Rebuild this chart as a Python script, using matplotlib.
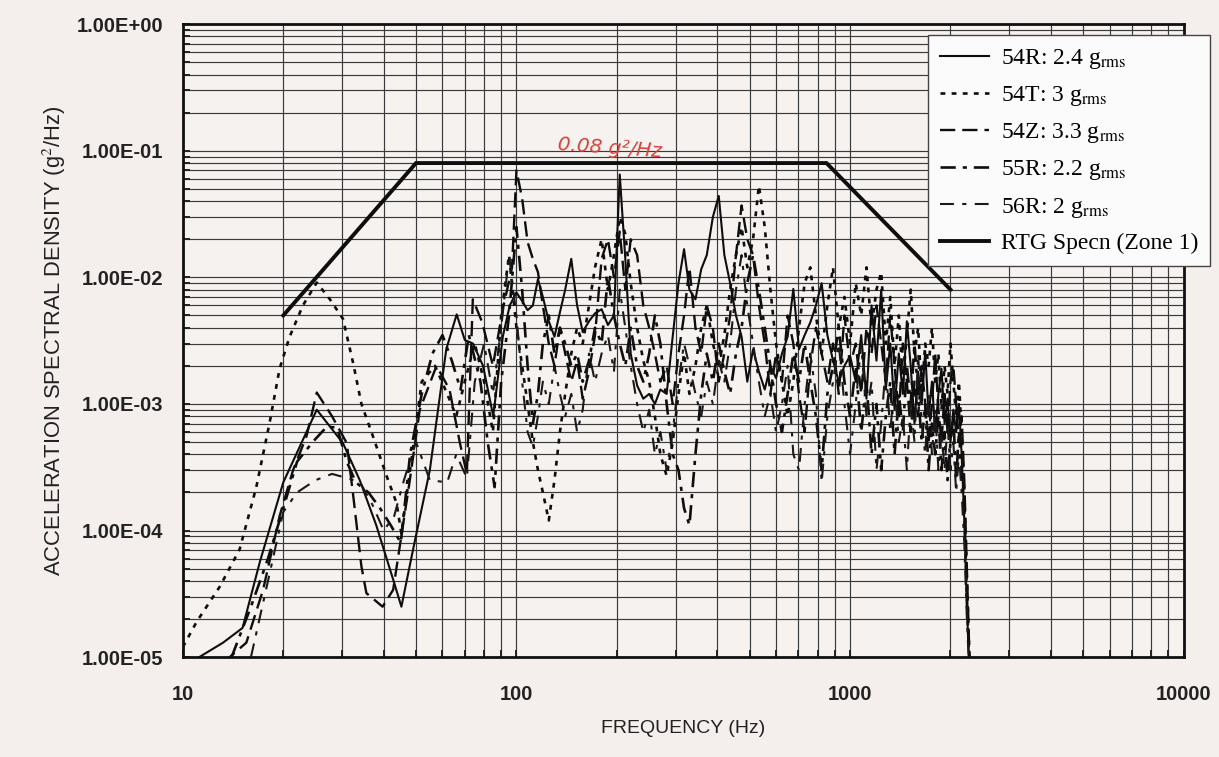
import matplotlib
matplotlib.use("Agg")
import matplotlib.pyplot as plt
from matplotlib.ticker import FixedLocator, FuncFormatter, LogLocator, NullFormatter

plt.rcParams['font.family'] = ['Liberation Sans', 'DejaVu Sans']
plt.rcParams['lines.scale_dashes'] = False
plt.rcParams['mathtext.fontset'] = 'stix'

# shared frequency bins above 100 Hz
freq_hi = [100, 104, 108, 112, 116, 120, 125, 130, 135, 140,
           146, 152, 158, 165, 172, 180, 188, 196, 204, 212,
           220, 230, 240, 250, 260, 270, 282, 294, 306, 318,
           330, 344, 358, 372, 388, 404, 420, 437, 455, 473,
           492, 512, 533, 555, 577, 600, 625, 650, 676, 703,
           731, 760, 790, 822, 855, 889, 925, 962, 1000, 1040,
           1080, 1120, 1160, 1200, 1240, 1280, 1320, 1360, 1400, 1440,
           1480, 1520, 1560, 1600, 1640, 1680, 1720, 1760, 1800, 1840,
           1880, 1920, 1960, 2000, 2040, 2080, 2120, 2160, 2200, 2240, 2280]

# 54R
f_54r_lo = [10.5, 11.2, 13.2, 15.1, 17.0, 20.0, 25.2, 30.2, 33.9, 38.0, 42.7, 45.2,
            49.0, 55.0, 61.6, 66.2, 70.0, 74.1, 79.4, 85.2, 91.0, 95.5]
v_54r_lo = [8e-6, 1.0e-5, 1.3e-5, 1.7e-5, 5.6e-5, 2.4e-4, 9.0e-4, 4.9e-4, 2.5e-4, 1.1e-4, 4.1e-5, 2.5e-5,
            7.1e-5, 3.0e-4, 2.7e-3, 5.1e-3, 3.2e-3, 3.0e-3, 2.0e-3, 8.0e-4, 3.4e-3, 6e-3]
v_54r_hi = [7.6e-3, 6.5e-3, 5.5e-3, 6.0e-3, 9.7e-3, 7e-3, 4.5e-3, 3.4e-3, 5.3e-3, 8e-3,
            1.4e-2, 6e-3, 3.7e-3, 4.5e-3, 5.2e-3, 5.6e-3, 4.2e-3, 5.0e-3, 6.5e-2, 1.4e-2,
            2.5e-3, 1.4e-3, 1.1e-3, 1.2e-3, 1.0e-3, 1.3e-3, 1.2e-3, 3.4e-3, 9e-3, 1.67e-2,
            8e-3, 6.7e-3, 1.16e-2, 1.5e-2, 3e-2, 4.4e-2, 1.5e-2, 9e-3, 5e-3, 3.4e-3,
            1.5e-3, 2.7e-3, 1.8e-3, 1.3e-3, 2.0e-3, 1.6e-3, 2.5e-3, 3.4e-3, 8.1e-3, 2.7e-3,
            3.5e-3, 4.4e-3, 6e-3, 9e-3, 3.5e-3, 2.2e-3, 1.5e-3, 2.0e-3, 2.4e-3, 1.5e-3,
            3.5e-3, 1.1e-3, 6e-3, 2.2e-3, 8e-3, 1.3e-3, 3.0e-3, 9e-4, 2.5e-3, 1.2e-3,
            4.5e-3, 2.0e-3, 7e-4, 1.8e-3, 1.0e-3, 2.6e-3, 8e-4, 1.5e-3, 6e-4, 1.2e-3,
            1.9e-3, 7e-4, 1.1e-3, 5e-4, 9e-4, 6e-4, 1.0e-3, 4e-4, 1.2e-4, 2.5e-5, 8e-6]

# 54T
f_54t_lo = [10, 11.0, 12.9, 14.8, 16.6, 18.2, 19.5, 20.9, 22.9, 25.2, 27.6, 30.2, 32.4, 34.3,
            37.1, 40.8, 43.7, 45.2, 48, 52, 57, 62, 66, 70, 75, 80, 85, 90, 95]
v_54t_lo = [1.2e-5, 1.9e-5, 3.6e-5, 7.1e-5, 2.2e-4, 7.1e-4, 1.9e-3, 3.4e-3, 6.0e-3, 9.1e-3, 6.7e-3, 4.7e-3, 2.1e-3, 1.0e-3,
            5.6e-4, 2.7e-4, 1.65e-4, 9.5e-5, 3e-4, 1.5e-3, 2e-3, 1.2e-3, 8e-4, 1.5e-3, 3e-3, 1.5e-3, 6e-4, 5e-3, 1.5e-2]
v_54t_hi = [4e-3, 2e-3, 1e-3, 5e-4, 3e-4, 2e-4, 1.2e-4, 2.5e-4, 6e-4, 1.2e-3,
            2.5e-3, 4e-3, 3e-3, 6e-3, 1.2e-2, 2e-2, 8e-3, 1.5e-2, 3e-2, 2.2e-2,
            9e-3, 4e-3, 2.2e-3, 1.5e-3, 8e-4, 4e-4, 2.7e-4, 5e-4, 1.2e-3, 2.5e-3,
            1.2e-3, 2e-3, 4e-3, 6e-3, 3e-3, 2e-3, 3.5e-3, 8e-3, 1.5e-2, 2.5e-2,
            1.2e-2, 2e-2, 5.3e-2, 2.5e-2, 8e-3, 3e-3, 1.5e-3, 8e-4, 1.5e-3, 4e-3,
            9e-3, 1.2e-2, 5e-3, 2.5e-3, 6e-3, 1.2e-2, 4e-3, 7e-3, 3e-3, 9e-3,
            5e-3, 1.2e-2, 4e-3, 8e-3, 1.1e-2, 3e-3, 7e-3, 2e-3, 5e-3, 1.5e-3,
            3.5e-3, 8e-3, 2.5e-3, 4e-3, 1.2e-3, 3e-3, 2e-3, 4e-3, 1.5e-3, 2.5e-3,
            9e-4, 2e-3, 1.2e-3, 3e-3, 1.5e-3, 8e-4, 1.5e-3, 6e-4, 2e-4, 4e-5, 1e-5]

# 54Z
f_54z_lo = [13.2, 15.5, 17.4, 19.5, 21.4, 23.5, 25.2, 28.0, 31.0, 32.4, 34.3, 35.5, 39.7,
            42.7, 47.8, 51.3, 57.6, 63, 67.7, 71, 74, 79, 85, 91, 97]
v_54z_lo = [9e-6, 1.3e-5, 3.4e-5, 1.3e-4, 3e-4, 5.6e-4, 1.23e-3, 8e-4, 4.9e-4, 1.9e-4, 5.2e-5, 3.2e-5, 2.5e-5,
            3.4e-5, 2.4e-4, 9e-4, 2e-3, 1.3e-3, 4.9e-4, 2.8e-4, 6.7e-3, 4.4e-3, 2e-3, 5.6e-3, 1.2e-2]
v_54z_hi = [7e-2, 4.2e-2, 1.9e-2, 1.4e-2, 1.1e-2, 6e-3, 3e-3, 2e-3, 4e-3, 2.5e-3,
            1.5e-3, 2.2e-3, 1.1e-3, 1.8e-3, 3.5e-3, 1.4e-2, 2e-2, 1e-2, 2.3e-2, 8e-3,
            2e-2, 1.5e-2, 6e-3, 4e-3, 2.5e-3, 1.5e-3, 2e-3, 1e-3, 2.5e-3, 5e-3,
            1.2e-2, 4e-3, 2.5e-3, 6e-3, 4e-3, 1.5e-3, 2.5e-3, 5e-3, 1.5e-2, 3.7e-2,
            2e-2, 1.5e-2, 6e-3, 3e-3, 1.2e-3, 2.5e-3, 1.5e-3, 5e-3, 3e-3, 1.2e-3,
            6e-4, 2e-3, 4e-3, 2.5e-3, 1.5e-3, 3e-3, 1.2e-3, 5e-3, 2e-3, 3e-3,
            1.2e-3, 4e-3, 2.5e-3, 6e-3, 3e-3, 1.5e-3, 5e-3, 2e-3, 8e-4, 3e-3,
            1.5e-3, 6e-4, 1.5e-3, 8e-4, 2e-3, 1e-3, 5e-4, 1e-3, 2.5e-3, 9e-4,
            5e-4, 1.2e-3, 6e-4, 1.5e-3, 2e-3, 1e-3, 5e-4, 8e-4, 2.5e-4, 5e-5, 1e-5]

# 55R
f_55r_lo = [14, 16, 18, 20, 22, 24.5, 27, 29, 31, 33, 36, 39, 42, 45, 48, 52, 56, 60, 64,
            68, 72, 78, 82, 86, 90, 95]
v_55r_lo = [1e-5, 2.5e-5, 6e-5, 1.5e-4, 3.5e-4, 5e-4, 6.6e-4, 6.5e-4, 3.5e-4, 2.4e-4, 2e-4, 1.5e-4, 1.1e-4, 8e-5,
            4e-4, 1.2e-3, 2.5e-3, 3.5e-3, 2.2e-3, 1.3e-3, 3.5e-3, 1.5e-3, 5e-4, 2.2e-4, 1.5e-3, 5e-3]
v_55r_hi = [2.5e-2, 8e-3, 2e-3, 7e-4, 1.2e-3, 3e-3, 5e-3, 2.5e-3, 4e-3, 3e-3,
            2e-3, 2.5e-3, 1.5e-3, 2.2e-3, 4e-3, 3e-3, 1e-2, 5e-3, 3e-3, 2e-3,
            4e-3, 2e-3, 1.5e-3, 2.5e-3, 5e-3, 3e-3, 1e-3, 4e-4, 3e-4, 1.5e-4,
            1.1e-4, 4e-4, 1.2e-3, 2.5e-3, 1.5e-3, 3e-3, 1.8e-3, 1.2e-3, 2.5e-3, 4e-3,
            9e-3, 1.5e-2, 8e-3, 4e-3, 2e-3, 1e-3, 6e-4, 1.2e-3, 2.5e-3, 1.5e-3,
            3e-3, 1.5e-3, 8e-4, 3e-4, 1.2e-3, 2e-3, 4e-3, 1.5e-3, 8e-4, 2e-3,
            6e-4, 1.5e-3, 4e-4, 1e-3, 3e-4, 8e-4, 1.5e-3, 4e-4, 1.2e-3, 6e-4,
            2e-3, 1e-3, 3e-3, 1.2e-3, 5e-4, 1e-3, 3e-4, 7e-4, 4e-4, 8e-4,
            3e-4, 6e-4, 2.5e-4, 5e-4, 8e-4, 2.5e-4, 6e-4, 3e-4, 1.5e-4, 3e-5, 8e-6]

# 56R
f_56r_lo = [16, 18, 20, 22, 25, 28, 31, 34, 37, 40, 43, 46, 50, 55, 62, 66, 71, 75, 80, 85, 90, 95]
v_56r_lo = [1e-5, 4e-5, 1.4e-4, 2e-4, 2.5e-4, 2.8e-4, 2.6e-4, 2.4e-4, 1.6e-4, 1.0e-4, 1.3e-4, 2.5e-4,
            5e-4, 2.5e-4, 2.4e-4, 4e-4, 2.6e-4, 1.5e-3, 3e-3, 1.2e-3, 4e-3, 1.5e-2]
v_56r_hi = [5e-3, 1.5e-3, 6e-4, 4.6e-4, 8e-4, 1.5e-3, 1e-3, 2e-3, 1.2e-3, 8e-4,
            1.2e-3, 6e-4, 9e-4, 2.5e-3, 1.5e-3, 2.5e-3, 3.5e-3, 1.8e-3, 8e-3, 4e-3,
            2e-3, 1e-3, 6e-4, 9e-4, 4e-4, 6e-4, 3e-4, 6e-4, 1.5e-3, 3e-3,
            2e-3, 1.2e-3, 8e-4, 1.5e-3, 1e-3, 2.2e-3, 1.5e-3, 3e-3, 8e-3, 1.5e-2,
            6e-3, 3e-3, 1.5e-3, 8e-4, 1.2e-3, 6e-4, 1e-3, 2e-3, 4e-4, 3e-4,
            1e-3, 2.5e-3, 1.2e-3, 2.4e-4, 8e-4, 1.5e-3, 3e-3, 1e-3, 4e-4, 1e-3,
            3e-3, 8e-4, 1.5e-3, 3e-4, 7e-4, 2e-3, 6e-4, 1.5e-3, 5e-4, 8e-4,
            3e-4, 1e-3, 5e-4, 2.5e-3, 7e-4, 4e-4, 1.2e-3, 4e-4, 9e-4, 3e-4,
            6e-4, 3e-4, 7e-4, 3e-4, 5e-4, 2e-4, 4e-4, 2e-4, 8e-5, 2e-5, 7e-6]

# RTG spec (Zone 1)
spec_f = [20, 50, 850, 2000]
spec_v = [0.005, 0.08, 0.08, 0.008]

labels = [r'54R: 2.4 g$_{\mathrm{rms}}$', r'54T: 3 g$_{\mathrm{rms}}$', r'54Z: 3.3 g$_{\mathrm{rms}}$',
          r'55R: 2.2 g$_{\mathrm{rms}}$', r'56R: 2 g$_{\mathrm{rms}}$', 'RTG Specn (Zone 1)']

bg = '#f4efed'
fig = plt.figure(figsize=(12.19, 7.57), dpi=100, facecolor=bg)
ax = fig.add_axes([0.150, 0.132, 0.821, 0.836])
ax.set_facecolor('#f6f2f0')

ink = '#0e0e0e'
ax.plot(f_54r_lo + freq_hi, v_54r_lo + v_54r_hi, color=ink, lw=1.5, label=labels[0])
ax.plot(f_54t_lo + freq_hi, v_54t_lo + v_54t_hi, color=ink, lw=1.9, dashes=(3.5, 4.5), label=labels[1])
ax.plot(f_54z_lo + freq_hi, v_54z_lo + v_54z_hi, color=ink, lw=1.7, dashes=(11, 5), label=labels[2])
ax.plot(f_55r_lo + freq_hi, v_55r_lo + v_55r_hi, color=ink, lw=1.9, dashes=(11, 5, 3, 5), label=labels[3])
ax.plot(f_56r_lo + freq_hi, v_56r_lo + v_56r_hi, color='#1a1a1a', lw=1.5, dashes=(10, 6, 3, 6), label=labels[4])
ax.plot(spec_f, spec_v, color=ink, lw=2.8, label=labels[5], solid_joinstyle='miter')

ax.set_xscale('log')
ax.set_yscale('log')
ax.set_xlim(10, 10000)
ax.set_ylim(1e-5, 1)

ax.xaxis.set_major_locator(FixedLocator([10, 100, 1000, 10000]))
ax.xaxis.set_major_formatter(FuncFormatter(lambda v, p: '%d' % round(v)))
ax.xaxis.set_minor_locator(LogLocator(base=10, subs=range(2, 10)))
ax.xaxis.set_minor_formatter(NullFormatter())
ax.yaxis.set_major_locator(FixedLocator([1e-5, 1e-4, 1e-3, 1e-2, 1e-1, 1]))
ax.yaxis.set_major_formatter(FuncFormatter(lambda v, p: '%.2E' % v))
ax.yaxis.set_minor_locator(LogLocator(base=10, subs=range(2, 10)))
ax.yaxis.set_minor_formatter(NullFormatter())

ax.grid(True, which='both', color='#3a3a3a', lw=0.85)
ax.set_axisbelow(True)
ax.tick_params(which='both', direction='in', length=5, width=1.4, color='#222222')
ax.tick_params(axis='y', which='major', pad=14, labelsize=14.5)
ax.tick_params(axis='x', which='major', pad=20, labelsize=14.5)
for t in ax.get_xticklabels() + ax.get_yticklabels():
    t.set_fontweight('bold')
    t.set_color('#222222')
for s in ax.spines.values():
    s.set_linewidth(2.0)
    s.set_color('#111111')

ax.set_xlabel('FREQUENCY (Hz)', fontsize=14, color='#222222')
ax.set_ylabel('ACCELERATION SPECTRAL DENSITY (g$^2$/Hz)', fontsize=15.8, color='#222222')
ax.xaxis.set_label_coords(0.5, -0.1)
ax.yaxis.set_label_coords(-0.115, 0.5)

# handwritten note on the spec level
ax.text(190, 0.083, '0.08 g²/Hz', color='#d2463c', fontsize=14.5, style='italic',
        ha='center', va='bottom', rotation=-4, family=['DejaVu Sans'])

leg = ax.legend(loc='upper left', bbox_to_anchor=(928 / 1219, 1 - 35 / 757),
                bbox_transform=fig.transFigure, frameon=True, fancybox=False,
                prop={'family': 'Liberation Serif', 'size': 17},
                handlelength=2.1, handletextpad=0.5, labelspacing=0.56,
                borderpad=0.5, borderaxespad=0)
leg.get_frame().set_edgecolor('#444444')
leg.get_frame().set_linewidth(1.0)
leg.get_frame().set_facecolor('#fbfbfb')
leg.get_frame().set_alpha(1)

fig.savefig('out.png', dpi=100, facecolor=bg)
